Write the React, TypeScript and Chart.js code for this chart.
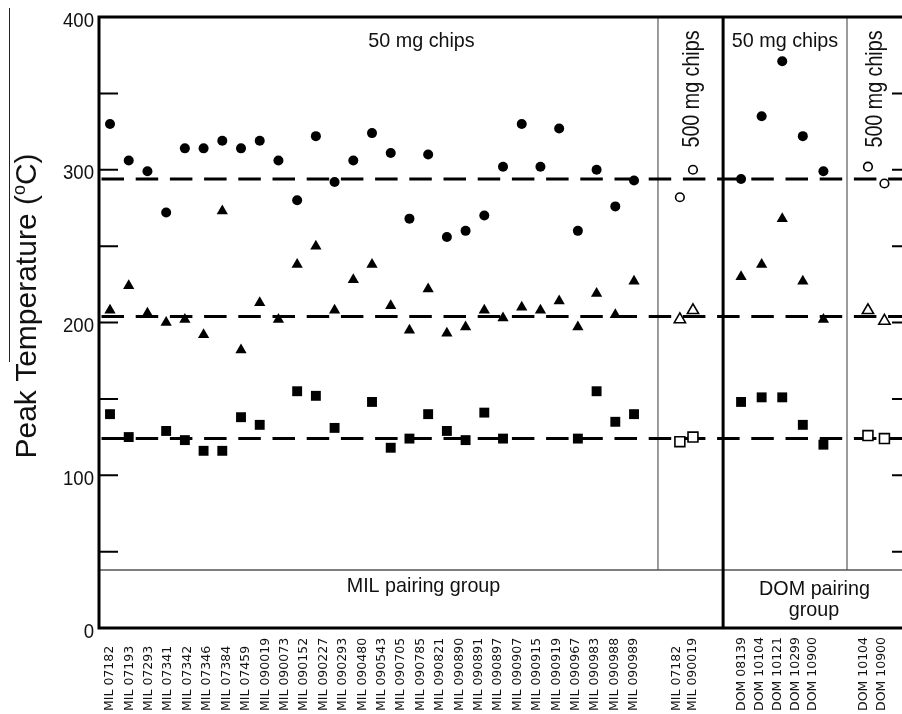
import React, { useEffect, useRef } from "react";
import { Chart, registerables } from "chart.js";

Chart.register(...registerables);

// ---------------- DATA ----------------
const milLabels = [
  "MIL 07182", "MIL 07193", "MIL 07293", "MIL 07341", "MIL 07342", "MIL 07346", "MIL 07384",
  "MIL 07459", "MIL 090019", "MIL 090073", "MIL 090152", "MIL 090227", "MIL 090293", "MIL 090480",
  "MIL 090543", "MIL 090705", "MIL 090785", "MIL 090821", "MIL 090890", "MIL 090891", "MIL 090897",
  "MIL 090907", "MIL 090915", "MIL 090919", "MIL 090967", "MIL 090983", "MIL 090988", "MIL 090989",
];
const mil500Labels = ["MIL 07182", "MIL 090019"];
const domLabels = ["DOM 08139", "DOM 10104", "DOM 10121", "DOM 10299", "DOM 10900"];
const dom500Labels = ["DOM 10104", "DOM 10900"];

// Peak temperatures (°C), MIL 50 mg chips (29 plotted columns)
const milCircle = [330, 306, 299, 272, 314, 314, 319, 314, 319, 306, 280, 322, 292, 306, 324, 311, 268, 310, 256, 260, 270, 302, 330, 302, 327, 260, 300, 276, 293];
const milTriangle = [208, 224, 206, 200, 202, 192, 273, 182, 213, 202, 238, 250, 208, 228, 238, 211, 195, 222, 193, 197, 208, 203, 210, 208, 214, 197, 219, 205, 227];
const milSquare = [140, 125, null, 129, 123, 116, 116, 138, 133, null, 155, 152, 131, null, 148, 118, 124, 140, 129, 123, 141, 124, null, null, null, 124, 155, 135, 140];
// MIL 500 mg chips
const mil500Circle = [282, 300];
const mil500Triangle = [202, 208];
const mil500Square = [122, 125];
// DOM 50 mg chips
const domCircle = [294, 335, 371, 322, 299];
const domTriangle = [230, 238, 268, 227, 202];
const domSquare = [148, 151, 151, 133, 120];
// DOM 500 mg chips
const dom500Circle = [302, 291];
const dom500Triangle = [208, 201];
const dom500Square = [126, 124];
// Dashed reference levels
const meanLines = [294, 204, 124];
const yTickLabels = [0, 100, 200, 300, 400];
const yMinorTicks = [50, 100, 150, 200, 250, 300, 350];

// ---------------- LAYOUT ----------------
const X_MIN = -0.588;
const X_MAX = 42.8;
const CANVAS_W = 920;
const CANVAS_H = 714;
const G = {
  mil: { pStart: 0, pStep: 1, lStart: 0, lStep: 28 / 27 },
  mil500: { pStart: 30.45, pStep: 0.7, lStart: 30.3, lStep: 0.85 },
  dom: { pStart: 33.72, pStep: 1.1, lStart: 33.77, lStep: 0.95 },
  dom500: { pStart: 40.5, pStep: 0.88, lStart: 40.25, lStep: 1.0 },
};
const DIV_THIN_1 = 29.28;
const DIV_THICK = 32.76;
const DIV_THIN_2 = 39.38;
const BAND_TOP = 38;

const pts = (vals: (number | null)[], g: { pStart: number; pStep: number }) =>
  vals
    .map((v, i) => (v == null ? null : { x: g.pStart + i * g.pStep, y: v }))
    .filter((p) => p !== null) as { x: number; y: number }[];

const filled = (label: string, data: any[], style: string, r: number) => ({
  type: "scatter" as const,
  label,
  data,
  pointStyle: style,
  pointRadius: r,
  pointHoverRadius: r,
  backgroundColor: "#000",
  borderColor: "#000",
  borderWidth: 0,
  clip: false as any,
});
const open = (label: string, data: any[], style: string, r: number) => ({
  type: "scatter" as const,
  label,
  data,
  pointStyle: style,
  pointRadius: r,
  pointHoverRadius: r,
  backgroundColor: "#fff",
  borderColor: "#000",
  borderWidth: 1.6,
  clip: false as any,
});

const SANS = '"Liberation Sans", Arial, sans-serif';

function drawText(
  ctx: CanvasRenderingContext2D,
  s: string,
  x: number,
  y: number,
  font: string,
  align: CanvasTextAlign,
  baseline: CanvasTextBaseline,
  rotate = false,
  sx = 1
) {
  ctx.save();
  ctx.translate(x, y);
  if (rotate) ctx.rotate(-Math.PI / 2);
  ctx.scale(sx, 1);
  ctx.font = font;
  ctx.textAlign = align;
  ctx.textBaseline = baseline;
  ctx.fillStyle = "#111";
  ctx.fillText(s, 0, 0);
  ctx.restore();
}

const decor = {
  id: "decor",
  beforeDatasetsDraw(chart: any) {
    const { ctx, chartArea: a, scales } = chart;
    const xs = scales.x, ys = scales.y;
    const bandY = ys.getPixelForValue(BAND_TOP);
    ctx.save();
    ctx.strokeStyle = "#7a7a7a";
    ctx.lineWidth = 1.5;
    [DIV_THIN_1, DIV_THIN_2].forEach((v) => {
      const px = xs.getPixelForValue(v);
      ctx.beginPath();
      ctx.moveTo(px, a.top);
      ctx.lineTo(px, bandY);
      ctx.stroke();
    });
    ctx.strokeStyle = "#555";
    ctx.beginPath();
    ctx.moveTo(a.left, bandY);
    ctx.lineTo(a.right, bandY);
    ctx.stroke();
    ctx.restore();
  },
  afterDatasetsDraw(chart: any) {
    const { ctx, chartArea: a, scales } = chart;
    const xs = scales.x, ys = scales.y;
    ctx.save();
    ctx.strokeStyle = "#000";
    ctx.lineWidth = 3;
    const tx = xs.getPixelForValue(DIV_THICK);
    ctx.beginPath();
    ctx.moveTo(tx, a.top);
    ctx.lineTo(tx, a.bottom);
    ctx.stroke();
    ctx.lineWidth = 3;
    ctx.beginPath();
    ctx.rect(a.left, a.top, a.right - a.left, a.bottom - a.top);
    ctx.stroke();
    ctx.lineWidth = 2;
    yMinorTicks.forEach((v) => {
      const py = ys.getPixelForValue(v);
      ctx.beginPath();
      ctx.moveTo(a.left, py);
      ctx.lineTo(a.left + 19, py);
      ctx.moveTo(a.right, py);
      ctx.lineTo(a.right - 19, py);
      ctx.stroke();
    });
    ctx.strokeStyle = "#222";
    ctx.lineWidth = 1;
    ctx.beginPath();
    ctx.moveTo(9.5, 8);
    ctx.lineTo(9.5, 362);
    ctx.stroke();
    ctx.restore();

    yTickLabels.forEach((v) => {
      drawText(ctx, String(v), 94, ys.getPixelForValue(v) + 4, `20px ${SANS}`, "right", "middle", false, 0.93);
    });

    {
      const cy = 306;
      const bx = 36;
      const main = "Peak Temperature (";
      const tail = "C)";
      ctx.save();
      ctx.font = `30px ${SANS}`;
      const w1 = ctx.measureText(main).width;
      const w3 = ctx.measureText(tail).width;
      ctx.font = `18px ${SANS}`;
      const w2 = ctx.measureText("o").width;
      const total = w1 + w2 + w3;
      ctx.translate(bx, cy);
      ctx.rotate(-Math.PI / 2);
      ctx.fillStyle = "#111";
      ctx.textBaseline = "alphabetic";
      ctx.textAlign = "left";
      const x0 = -total / 2;
      ctx.font = `30px ${SANS}`;
      ctx.fillText(main, x0, 0);
      ctx.font = `18px ${SANS}`;
      ctx.fillText("o", x0 + w1, -11);
      ctx.font = `30px ${SANS}`;
      ctx.fillText(tail, x0 + w1 + w2, 0);
      ctx.restore();
    }

    drawText(ctx, "50 mg chips", 421.5, 47, `21px ${SANS}`, "center", "alphabetic", false, 0.94);
    drawText(ctx, "50 mg chips", 785, 47, `21px ${SANS}`, "center", "alphabetic", false, 0.94);
    drawText(ctx, "500 mg chips", 699, 89, `24px ${SANS}`, "center", "alphabetic", true, 0.82);
    drawText(ctx, "500 mg chips", 882, 89, `24px ${SANS}`, "center", "alphabetic", true, 0.82);
    drawText(ctx, "MIL pairing group", 423.5, 592, `21px ${SANS}`, "center", "alphabetic", false, 0.94);
    drawText(ctx, "DOM pairing", 814.5, 595, `21px ${SANS}`, "center", "alphabetic", false, 0.94);
    drawText(ctx, "group", 814, 616, `21px ${SANS}`, "center", "alphabetic", false, 0.94);

    const lab = (labels: string[], g: { lStart: number; lStep: number }) => {
      labels.forEach((s, i) => {
        const px = xs.getPixelForValue(g.lStart + i * g.lStep);
        drawText(ctx, s, px, 711, `12.5px "DejaVu Sans", sans-serif`, "left", "middle", true);
      });
    };
    lab(milLabels, G.mil);
    lab(mil500Labels, G.mil500);
    lab(domLabels, G.dom);
    lab(dom500Labels, G.dom500);
  },
};

export default function App() {
  const ref = useRef<HTMLCanvasElement | null>(null);
  useEffect(() => {
    if (!ref.current) return;
    const refLines = meanLines.map((v, i) => ({
      type: "line" as const,
      label: "mean" + i,
      data: [
        { x: X_MIN, y: v },
        { x: X_MAX, y: v },
      ],
      borderColor: "#000",
      borderWidth: 3,
      borderDash: [22.5, 11.7],
      borderDashOffset: -2.5,
      pointRadius: 0,
      fill: false,
      showLine: true,
    }));
    const chart = new Chart(ref.current, {
      type: "scatter",
      data: {
        datasets: [
          filled("MIL circles", pts(milCircle, G.mil), "circle", 5),
          filled("MIL triangles", pts(milTriangle, G.mil), "triangle", 6.5),
          filled("MIL squares", pts(milSquare, G.mil), "rect", 7),
          open("MIL500 circles", pts(mil500Circle, G.mil500), "circle", 4.3),
          open("MIL500 triangles", pts(mil500Triangle, G.mil500), "triangle", 6.5),
          open("MIL500 squares", pts(mil500Square, G.mil500), "rect", 7),
          filled("DOM circles", pts(domCircle, G.dom), "circle", 5),
          filled("DOM triangles", pts(domTriangle, G.dom), "triangle", 6.5),
          filled("DOM squares", pts(domSquare, G.dom), "rect", 7),
          open("DOM500 circles", pts(dom500Circle, G.dom500), "circle", 4.3),
          open("DOM500 triangles", pts(dom500Triangle, G.dom500), "triangle", 6.5),
          open("DOM500 squares", pts(dom500Square, G.dom500), "rect", 7),
          ...(refLines as any[]),
        ],
      },
      options: {
        responsive: false,
        animation: false,
        devicePixelRatio: 1,
        layout: { padding: { left: 99, top: 17, right: CANVAS_W - 911, bottom: CANVAS_H - 628 } },
        scales: {
          x: { type: "linear", min: X_MIN, max: X_MAX, display: false },
          y: { type: "linear", min: 0, max: 400, display: false },
        },
        plugins: { legend: { display: false }, tooltip: { enabled: false } },
        events: [],
      },
      plugins: [decor],
    });
    return () => chart.destroy();
  }, []);
  return (
    <div
      style={{
        position: "fixed",
        left: 0,
        top: 0,
        width: 902,
        height: 714,
        overflow: "hidden",
        background: "#fff",
      }}
    >
      <canvas ref={ref} width={CANVAS_W} height={CANVAS_H} style={{ display: "block" }} />
    </div>
  );
}
